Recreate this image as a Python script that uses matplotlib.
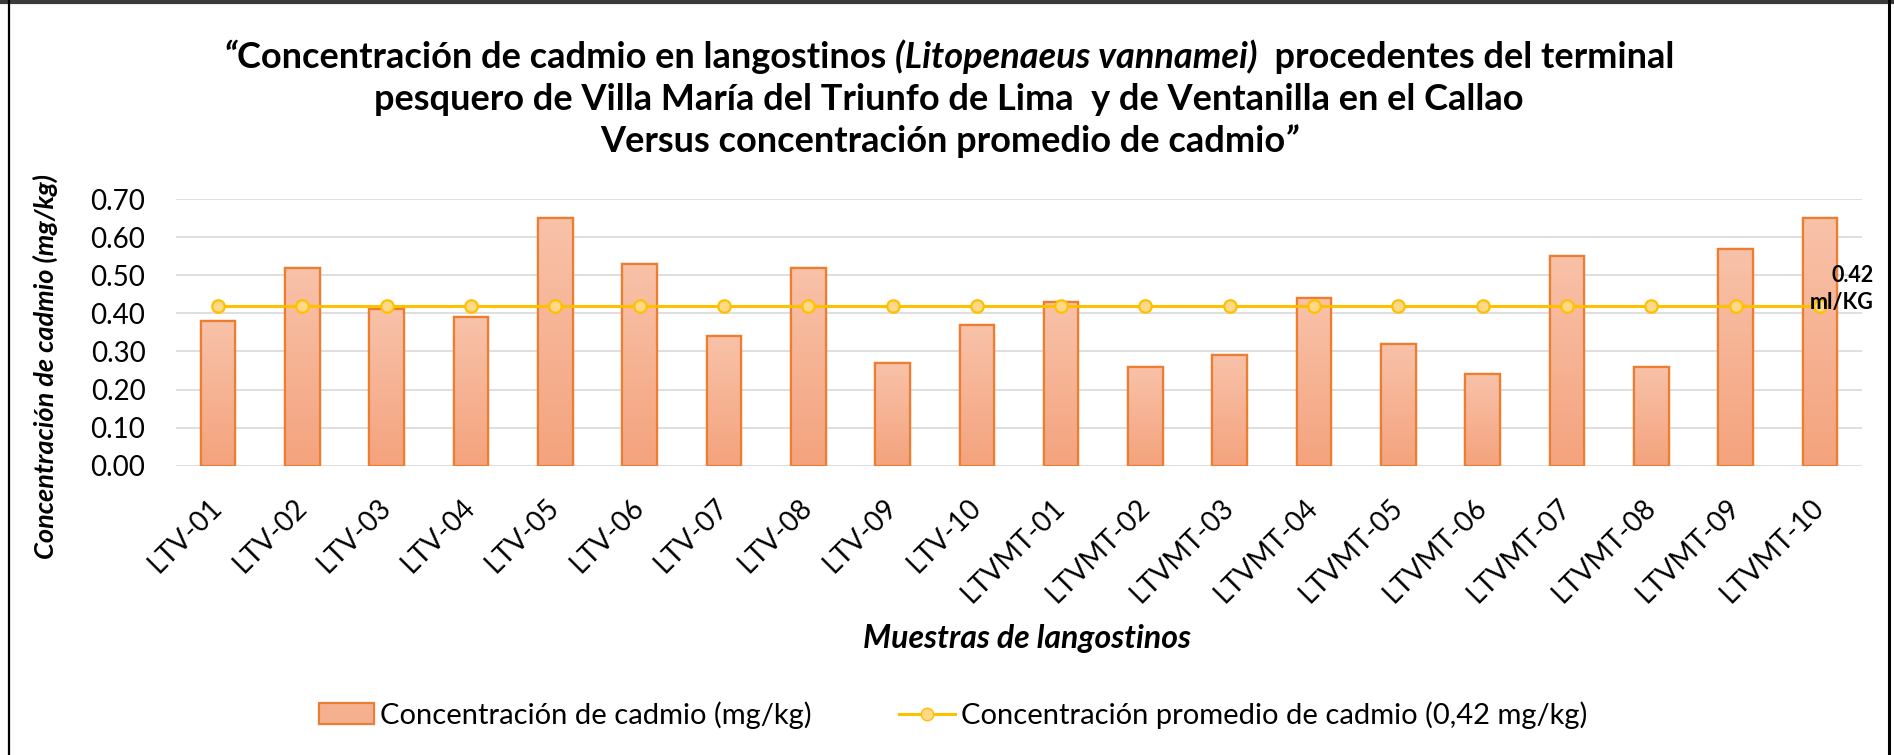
import matplotlib
matplotlib.use("Agg")
import matplotlib.pyplot as plt
import numpy as np
from matplotlib.colors import LinearSegmentedColormap
from matplotlib.patches import Patch
from matplotlib.lines import Line2D

# Datos
muestras = ["LTV-01", "LTV-02", "LTV-03", "LTV-04", "LTV-05", "LTV-06", "LTV-07",
            "LTV-08", "LTV-09", "LTV-10", "LTVMT-01", "LTVMT-02", "LTVMT-03",
            "LTVMT-04", "LTVMT-05", "LTVMT-06", "LTVMT-07", "LTVMT-08", "LTVMT-09",
            "LTVMT-10"]
cadmio = [0.38, 0.52, 0.41, 0.39, 0.65, 0.53, 0.34, 0.52, 0.27, 0.37,
          0.43, 0.26, 0.29, 0.44, 0.32, 0.24, 0.55, 0.26, 0.57, 0.65]
promedio = 0.42
yticks = [0.0, 0.1, 0.2, 0.3, 0.4, 0.5, 0.6, 0.7]

FONT = "Lato"
W, H = 1894, 755
plt.rcParams["font.family"] = [FONT, "DejaVu Sans"]

fig = plt.figure(figsize=(W / 100, H / 100), dpi=100)
ax = fig.add_axes([176 / W, 1 - 465.7 / H, 1686 / W, 266.7 / H])

x = np.arange(len(muestras))
naranja = "#ED7D31"
relleno = "#F5B090"

# barras con degradado
barras = ax.bar(x, cadmio, width=0.41, color=relleno, edgecolor=naranja,
                linewidth=1.6, zorder=2)
degradado = LinearSegmentedColormap.from_list("deg", ["#F4A37D", "#F8C2A9"])
grad = np.linspace(0, 1, 256).reshape(-1, 1)
for b in barras:
    im = ax.imshow(grad, extent=(b.get_x(), b.get_x() + b.get_width(), 0, b.get_height()),
                   origin="lower", aspect="auto", cmap=degradado, zorder=2.1)
    im.set_clip_path(b)
ax.bar(x, cadmio, width=0.41, fill=False, edgecolor=naranja, linewidth=1.6, zorder=2.2)

# linea del promedio
ax.plot(x, [promedio] * len(x), color="#FFC000", linewidth=2.2, marker="o",
        markersize=9, markerfacecolor="#FFD98A", markeredgecolor="#FFC000",
        markeredgewidth=1.6, zorder=3)

ax.annotate("0.42\nml/KG", xy=(x[-1], promedio), xytext=(39, 12), textcoords="offset points",
            ha="right", va="center", multialignment="right", fontsize=15.5,
            fontweight="bold", color="black", linespacing=1.3, zorder=4)

ax.set_xlim(-0.5, len(x) - 0.5)
ax.set_ylim(0, 0.7)
ax.set_yticks(yticks)
ax.set_yticklabels([f"{v:.2f}" for v in yticks], fontsize=20)
ax.set_xticks(x)
ax.set_xticklabels(muestras, fontsize=20, rotation=45, ha="right", va="center",
                   rotation_mode="anchor")
ax.tick_params(axis="both", length=0)
ax.tick_params(axis="y", pad=22)
ax.tick_params(axis="x", pad=27)
ax.grid(axis="y", color="#D9D9D9", linewidth=1.2, zorder=0)
ax.set_axisbelow(True)
for s in ax.spines.values():
    s.set_visible(False)

ax.set_ylabel("Concentración de cadmio (mg/kg)", fontsize=19.5, fontweight="bold",
              fontstyle="italic")
ax.yaxis.set_label_coords(-0.0700, 0.372)
ax.set_xlabel("Muestras de langostinos", fontsize=23, fontweight="bold", fontstyle="italic")
ax.xaxis.set_label_coords(0.505, -0.595)

# titulo con partes en cursiva
def linea_titulo(partes, xc, yc, size):
    textos = [fig.text(0, 1 - yc / H, s, fontsize=size, fontweight="bold",
                       fontstyle=st, ha="left", va="center") for s, st in partes]
    r = fig.canvas.get_renderer()
    anchos = [t.get_window_extent(r).width for t in textos]
    pos = xc - sum(anchos) / 2
    for t, a in zip(textos, anchos):
        t.set_x(pos / W)
        pos += a

linea_titulo([("“", "italic"), ("Concentración de cadmio en langostinos ", "normal"),
              ("(Litopenaeus vannamei)", "italic"), ("  procedentes del terminal", "normal")],
             949, 57, 26)
linea_titulo([("pesquero de Villa María del Triunfo de Lima  y de Ventanilla en el Callao", "normal")],
             949, 100, 26)
linea_titulo([("Versus concentración promedio de cadmio", "normal"), ("”", "italic")],
             949, 142, 26)

# leyenda
h1 = Patch(facecolor=relleno, edgecolor=naranja, linewidth=1.6)
h2 = Line2D([], [], color="#FFC000", linewidth=2.2, marker="o", markersize=9,
            markerfacecolor="#FFD98A", markeredgecolor="#FFC000")
fig.legend([h1, h2], ["Concentración de cadmio (mg/kg)",
                      "Concentración promedio de cadmio (0,42 mg/kg)"],
           loc="center", bbox_to_anchor=(953 / W, 1 - 715 / H), ncol=2, frameon=False,
           fontsize=21, handlelength=1.9, handletextpad=0.2, columnspacing=3.0)

# marco exterior
fig.add_artist(Line2D([0, 1], [1 - 1.5 / H, 1 - 1.5 / H], color="#3A3A3A", linewidth=3,
                      transform=fig.transFigure))
fig.add_artist(Line2D([8.7 / W, 8.7 / W], [0, 1], color="black", linewidth=1.6,
                      transform=fig.transFigure))
fig.add_artist(Line2D([1889 / W, 1889 / W], [0, 1], color="black", linewidth=2.2,
                      transform=fig.transFigure))

fig.savefig("out.png", dpi=100, facecolor="white")
